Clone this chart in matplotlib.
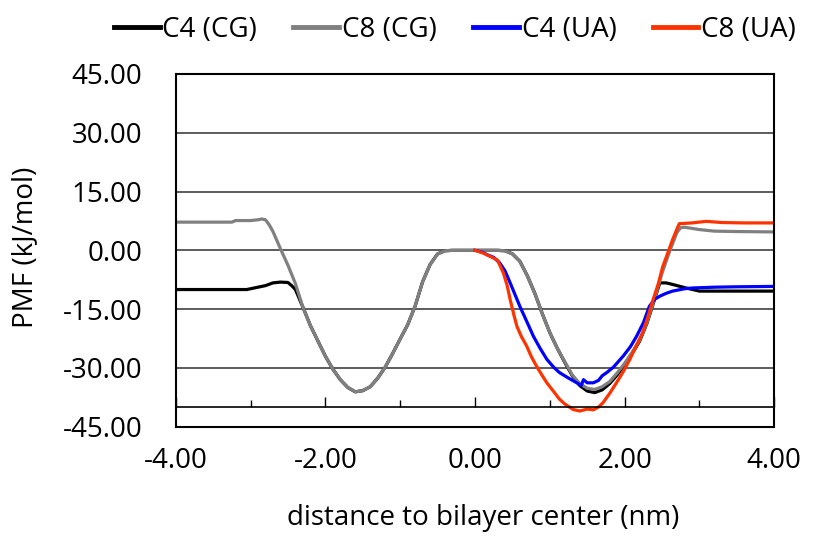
import matplotlib
matplotlib.use('Agg')
import matplotlib.pyplot as plt
from matplotlib.ticker import MultipleLocator, FuncFormatter

plt.rcParams['font.family'] = ['Open Sans', 'DejaVu Sans']
plt.rcParams['axes.unicode_minus'] = False

# PMF profiles (kJ/mol) vs distance to bilayer center (nm)
x_c8_cg = [-4.0, -3.5, -3.25, -3.2, -3.0, -2.9, -2.85, -2.8, -2.75, -2.7, -2.6,
           -2.5, -2.4, -2.3, -2.2, -2.1, -2.0, -1.9, -1.8, -1.7, -1.6, -1.5,
           -1.4, -1.3, -1.2, -1.1, -1.0, -0.9, -0.8, -0.7, -0.6, -0.5, -0.4,
           -0.3, 0.0, 0.3, 0.4, 0.5, 0.6, 0.7, 0.8, 0.9, 1.0, 1.1, 1.2, 1.3,
           1.4, 1.5, 1.6, 1.7, 1.8, 1.9, 2.0, 2.1, 2.2, 2.3, 2.4, 2.5, 2.6,
           2.7, 2.75, 2.8, 3.0, 3.2, 3.5, 4.0]
pmf_c8_cg = [7.2, 7.2, 7.2, 7.6, 7.6, 7.8, 8.0, 7.8, 6.5, 4.8, 0.4,
             -3.8, -8.5, -14.5, -19.2, -23.1, -27.0, -30.3, -33.0, -35.0, -36.1, -35.8,
             -34.8, -32.6, -29.8, -26.3, -22.6, -19.0, -14.2, -8.0, -3.6, -0.9, -0.1,
             0.0, 0.0, 0.0, -0.1, -0.9, -2.8, -6.5, -11.0, -16.2, -21.0, -25.0, -28.4, -31.8,
             -34.0, -35.2, -35.5, -34.8, -33.5, -31.3, -28.8, -26.0, -23.0, -18.3, -12.3, -5.8, -0.3,
             4.6, 5.8, 5.9, 5.3, 4.9, 4.8, 4.7]

x_c4_cg = [-4.0, -3.5, -3.05, -2.9, -2.8, -2.7, -2.6, -2.5, -2.45, -2.4, -2.3,
           -2.2, -2.1, -2.0, -1.9, -1.8, -1.7, -1.6, -1.5, -1.4, -1.3, -1.2,
           -1.1, -1.0, -0.9, -0.8, -0.7, -0.6, -0.5, -0.4, -0.3, 0.0, 0.3, 0.4,
           0.5, 0.6, 0.7, 0.8, 0.9, 1.0, 1.1, 1.2, 1.3, 1.4, 1.5, 1.6, 1.7,
           1.8, 1.9, 2.0, 2.1, 2.2, 2.3, 2.4, 2.47, 2.55, 2.6, 2.7, 2.82, 3.0,
           3.5, 4.0]
pmf_c4_cg = [-10.0, -10.0, -10.0, -9.4, -9.0, -8.3, -8.1, -8.2, -9.0, -10.0, -14.5,
             -19.2, -23.1, -27.0, -30.3, -33.0, -35.0, -36.1, -35.8, -34.8, -32.6, -29.8,
             -26.3, -22.6, -19.0, -14.2, -8.0, -3.6, -0.9, -0.1, 0.0, 0.0, 0.0, -0.1,
             -0.9, -2.8, -6.5, -11.0, -16.2, -21.0, -25.0, -28.6, -32.0, -34.5, -35.9, -36.3, -35.6,
             -34.0, -31.8, -29.2, -26.3, -23.2, -18.5, -12.5, -8.3, -8.3, -8.5, -9.0, -9.6, -10.4,
             -10.4, -10.4]

x_c4_ua = [0.0, 0.1, 0.16, 0.25, 0.33, 0.4, 0.47, 0.55, 0.6, 0.7, 0.78, 0.87,
           0.96, 1.05, 1.13, 1.25, 1.36, 1.42, 1.45, 1.5, 1.58, 1.65, 1.7, 1.76,
           1.85, 1.98, 2.08, 2.16, 2.25, 2.33, 2.4, 2.47, 2.55, 2.64, 2.8, 2.91,
           3.2, 3.5, 4.0]
pmf_c4_ua = [0.0, -0.5, -1.1, -1.8, -3.2, -5.2, -8.3, -12.0, -14.3, -18.5, -21.9, -25.0,
             -27.8, -29.8, -31.2, -32.6, -33.8, -34.5, -33.0, -33.8, -33.8, -33.2, -32.0, -31.2,
             -29.8, -27.0, -24.5, -21.9, -18.5, -14.3, -12.5, -11.7, -11.0, -10.4, -9.8, -9.6,
             -9.4, -9.3, -9.2]

x_c8_ua = [0.0, 0.11, 0.24, 0.3, 0.38, 0.43, 0.47, 0.52, 0.56, 0.62, 0.69, 0.75,
           0.82, 0.9, 0.96, 1.05, 1.13, 1.2, 1.31, 1.4, 1.5, 1.58, 1.65, 1.71,
           1.8, 1.89, 1.98, 2.07, 2.15, 2.24, 2.31, 2.38, 2.45, 2.51, 2.58, 2.64,
           2.7, 2.73, 2.9, 3.09, 3.3, 3.6, 4.0]
pmf_c8_ua = [0.0, -0.7, -1.9, -2.5, -5.8, -9.0, -12.6, -16.5, -19.4, -22.0, -24.4, -27.0,
             -29.5, -32.0, -33.8, -36.0, -38.0, -39.2, -40.6, -41.0, -40.5, -40.7, -40.0, -38.9,
             -36.5, -33.8, -31.0, -27.8, -24.5, -21.0, -17.0, -12.6, -8.5, -4.1, -0.5, 2.7,
             5.5, 6.8, 7.0, 7.4, 7.1, 7.0, 7.0]

W, H = 813, 539
FS = 20
fig = plt.figure(figsize=(W / 100, H / 100), dpi=100)
ax = fig.add_axes([175.7 / W, (H - 426.7) / H, (774.3 - 175.7) / W, (426.7 - 74) / H])

ax.plot(x_c4_cg, pmf_c4_cg, color='black', lw=2.3, label='C4 (CG)')
ax.plot(x_c8_cg, pmf_c8_cg, color='#808080', lw=2.3, label='C8 (CG)')
ax.plot(x_c4_ua, pmf_c4_ua, color='#0000FF', lw=2.3, label='C4 (UA)')
ax.plot(x_c8_ua, pmf_c8_ua, color='#FF3300', lw=2.3, label='C8 (UA)')

ax.set_xlim(-4, 4)
ax.set_ylim(-45, 45)

# horizontal axis crosses at -40, labels sit below the plot frame
ax.spines['bottom'].set_position(('data', -40))
ax.axhline(-45, color='black', lw=1.5, clip_on=False, zorder=5)
for s in ['left', 'right', 'top']:
    ax.spines[s].set_linewidth(1.5)
ax.spines['bottom'].set_linewidth(1.2)

ax.xaxis.set_major_locator(MultipleLocator(2))
ax.xaxis.set_minor_locator(MultipleLocator(1))
ax.yaxis.set_major_locator(MultipleLocator(15))
fmt = FuncFormatter(lambda v, p: f'{v:.2f}')
ax.xaxis.set_major_formatter(fmt)
ax.yaxis.set_major_formatter(fmt)

ax.tick_params(axis='x', which='major', direction='in', length=7, width=1, pad=29, labelsize=FS)
ax.tick_params(axis='x', which='minor', direction='in', length=5, width=1)
ax.tick_params(axis='y', length=0, pad=24, labelsize=FS)

ax.grid(axis='y', color='#303030', lw=1.1)
ax.set_axisbelow(True)

fig.text(25 / W, 1 - 247 / H, 'PMF (kJ/mol)', rotation=90, ha='center', va='center', fontsize=FS)
fig.text(483 / W, 1 - 518 / H, 'distance to bilayer center (nm)', ha='center', va='center', fontsize=FS)

fig.legend(loc='center', bbox_to_anchor=(455 / W, 1 - 30 / H), ncol=4, frameon=False,
           fontsize=FS, handlelength=1.65, handletextpad=0.1, columnspacing=1.3)
for ln in fig.legends[0].get_lines():
    ln.set_linewidth(3.5)

fig.savefig('out.png', dpi=100)
